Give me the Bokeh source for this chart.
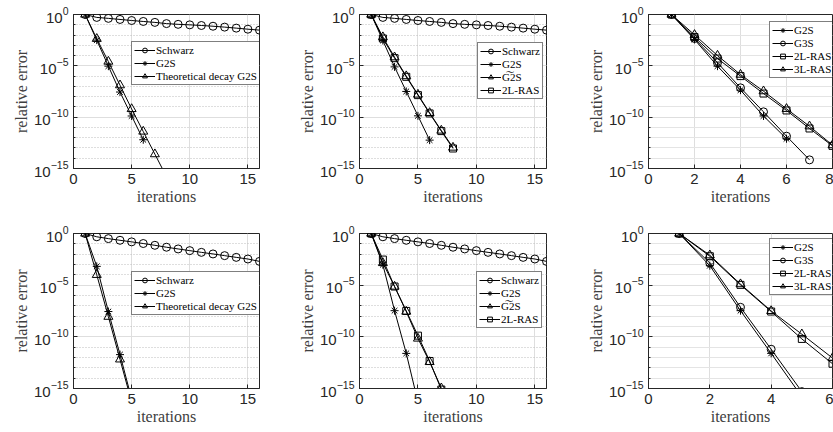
from bokeh.plotting import figure
from bokeh.layouts import column, row
from bokeh.models import FixedTicker, Range1d, Legend, LegendItem
from bokeh.embed import file_html
from bokeh.resources import INLINE

# ---------------- data ----------------
it16 = list(range(1, 17))
schwarz_top = [1, 0.52, 0.42, 0.33, 0.26, 0.21, 0.17, 0.13, 0.11, 0.098, 0.085, 0.072, 0.059, 0.047, 0.037, 0.030]
schwarz_bot = [1, 0.48, 0.32, 0.22, 0.155, 0.107, 0.072, 0.047, 0.032, 0.022, 0.015, 0.0105, 0.0072, 0.0049, 0.0034, 0.0020]

# panel 1 (top-left)
p1_g2s = [1, 3.2e-3, 9.3e-6, 2.8e-8, 1.3e-10, 6.3e-13]
p1_theory = [1, 4.3e-3, 2.6e-5, 1.3e-7, 6.3e-10, 4.0e-12, 2.5e-14, 1.6e-16]
# panel 2 (top-middle)
p2_g2s = [1, 2.9e-3, 7.9e-6, 3.2e-8, 1.35e-10, 5.8e-13]
p2_g2st = [1, 6.3e-3, 6.9e-5, 1.0e-6, 1.6e-8, 2.6e-10, 5.0e-12, 1.1e-13]
p2_2lras = [1, 4.6e-3, 5.6e-5, 8.5e-7, 1.4e-8, 2.3e-10, 4.4e-12, 8.9e-14]
# panel 3 (top-right)
p3_g2s = [1, 3.7e-3, 9.3e-6, 4.3e-8, 1.3e-10, 7.9e-13]
p3_g3s = [1, 4.6e-3, 2.0e-5, 7.2e-8, 3.3e-10, 1.4e-12, 6.9e-15]
p3_2lras = [1, 6.3e-3, 5.1e-5, 1.0e-6, 2.0e-8, 4.5e-10, 7.9e-12, 1.6e-13]
p3_3lras = [1, 1.05e-2, 1.0e-4, 1.4e-6, 3.4e-8, 6.5e-10, 1.3e-11, 1.9e-13]
# panel 4 (bottom-left)
p4_g2s = [1, 6.6e-4, 2.8e-8, 1.9e-12, 1.0e-16]
p4_theory = [1, 1.0e-4, 8.9e-9, 6.6e-13, 5.0e-17]
# panel 5 (bottom-middle)
p5_g2s = [1, 9.5e-4, 3.4e-8, 2.5e-12, 5.0e-17]
p5_g2st = [1, 1.4e-3, 7.4e-6, 2.8e-8, 6.9e-11, 3.7e-13, 1.07e-15]
p5_2lras = [1, 3.0e-3, 7.4e-6, 3.2e-8, 1.3e-10, 4.6e-13, 7.9e-16]
# panel 6 (bottom-right)
p6_g2s = [1, 7.6e-4, 3.4e-8, 2.5e-12, 1.6e-16]
p6_g3s = [1, 1.4e-3, 7.2e-8, 6.3e-12, 5.0e-16]
p6_2lras = [1, 6.3e-3, 1.07e-5, 2.8e-8, 6.3e-11, 2.5e-13]
p6_3lras = [1, 7.9e-3, 1.26e-5, 3.2e-8, 1.8e-10, 8.9e-13]

yticks = [1e-15, 1e-10, 1e-5, 1]
yminor = [10.0 ** -k for k in range(16)]
xticks_wide = [0, 5, 10, 15]

G2S_TILDE = "G\u03602S"
LBL_SERIF = "Liberation Serif"
TICK_FONT = "Liberation Sans"
AX = "#262626"

MARK = {"Schwarz": ("circle", 8), "G2S": ("asterisk", 8), "Theoretical decay G2S": ("triangle", 9),
        G2S_TILDE: ("triangle", 9), "2L-RAS": ("square", 7), "G3S": ("circle", 8), "3L-RAS": ("triangle", 9)}


def make_fig(width, height, lb, rb, tb, bb, xmax, xticks, dotted):
    p = figure(width=width, height=height, y_axis_type="log",
               x_range=Range1d(0, xmax), y_range=Range1d(1e-15, 1),
               output_backend="svg", toolbar_location=None,
               min_border_left=lb, min_border_right=rb, min_border_top=tb, min_border_bottom=bb)
    p.background_fill_color = "white"
    p.border_fill_color = "white"
    p.outline_line_color = AX
    p.outline_line_width = 1
    p.outline_line_alpha = 1
    p.yaxis.ticker = FixedTicker(ticks=yticks, minor_ticks=yminor)
    p.xaxis.ticker = FixedTicker(ticks=xticks)
    for ax in (p.xaxis, p.yaxis):
        ax.axis_line_color = AX
        ax.major_tick_line_color = AX
        ax.major_tick_in = 4
        ax.major_tick_out = 0
        ax.minor_tick_line_color = None
        ax.major_label_text_font = TICK_FONT
        ax.major_label_text_font_size = "15px"
        ax.major_label_text_color = AX
        ax.axis_label_text_font = LBL_SERIF
        ax.axis_label_text_font_size = "16px"
        ax.axis_label_text_font_style = "normal"
        ax.axis_label_text_color = "#404040"
        ax.axis_label_standoff = 1
        ax.major_label_standoff = 5
    p.yaxis.minor_tick_line_color = AX
    p.yaxis.minor_tick_in = 2
    p.yaxis.minor_tick_out = 0
    p.xaxis.axis_label = "iterations"
    p.yaxis.axis_label = "relative error"
    p.xgrid.grid_line_color = "#dedede"
    p.ygrid.grid_line_color = "#dedede"
    if dotted:
        p.ygrid.minor_grid_line_color = "#bdbdbd"
        p.ygrid.minor_grid_line_dash = "1 2"
    else:
        p.ygrid.minor_grid_line_color = "#e4e4e4"
    return p


def add_series(p, x, y, name):
    marker, size = MARK[name]
    r1 = p.line(x, y, line_color="black", line_width=1)
    r2 = p.scatter(x, y, marker=marker, size=size, line_color="black", fill_color=None, line_width=1)
    return LegendItem(label=name, renderers=[r1, r2])


def add_legend(p, items, loc):
    lg = Legend(items=items, location=loc)
    lg.label_text_font = LBL_SERIF
    lg.label_text_font_size = "11px"
    lg.label_text_color = "black"
    lg.label_height = 12
    lg.label_standoff = 1
    lg.glyph_width = 21
    lg.glyph_height = 12
    lg.spacing = 1
    lg.padding = 2
    lg.margin = 0
    lg.border_line_color = "black"
    lg.border_line_width = 1
    lg.background_fill_color = "white"
    lg.background_fill_alpha = 1
    p.add_layout(lg)


def xs(vals):
    return list(range(1, len(vals) + 1))


# top row
f1 = make_fig(290, 222, 73, 31, 14, 54, 16, xticks_wide, True)
it = [add_series(f1, it16, schwarz_top, "Schwarz"),
      add_series(f1, xs(p1_g2s), p1_g2s, "G2S"),
      add_series(f1, xs(p1_theory), p1_theory, "Theoretical decay G2S")]
add_legend(f1, it, (58, 83))

f2 = make_fig(283, 222, 69, 27, 14, 54, 16, xticks_wide, True)
it = [add_series(f2, it16, schwarz_top, "Schwarz"),
      add_series(f2, xs(p2_g2s), p2_g2s, "G2S"),
      add_series(f2, xs(p2_g2st), p2_g2st, G2S_TILDE),
      add_series(f2, xs(p2_2lras), p2_2lras, "2L-RAS")]
add_legend(f2, it, (118, 69))

f3 = make_fig(260, 222, 75, 1, 14, 54, 8, [0, 2, 4, 6, 8], False)
it = [add_series(f3, xs(p3_g2s), p3_g2s, "G2S"),
      add_series(f3, xs(p3_g3s), p3_g3s, "G3S"),
      add_series(f3, xs(p3_2lras), p3_2lras, "2L-RAS"),
      add_series(f3, xs(p3_3lras), p3_3lras, "3L-RAS")]
add_legend(f3, it, (121, 90))

# bottom row
f4 = make_fig(290, 210, 73, 31, 11, 44, 16, xticks_wide, True)
it = [add_series(f4, it16, schwarz_bot, "Schwarz"),
      add_series(f4, xs(p4_g2s), p4_g2s, "G2S"),
      add_series(f4, xs(p4_theory), p4_theory, "Theoretical decay G2S")]
add_legend(f4, it, (58, 73))

f5 = make_fig(283, 210, 69, 27, 11, 44, 16, xticks_wide, True)
it = [add_series(f5, it16, schwarz_bot, "Schwarz"),
      add_series(f5, xs(p5_g2s), p5_g2s, "G2S"),
      add_series(f5, xs(p5_g2st), p5_g2st, G2S_TILDE),
      add_series(f5, xs(p5_2lras), p5_2lras, "2L-RAS")]
add_legend(f5, it, (117, 60))

f6 = make_fig(260, 210, 75, 1, 11, 44, 6, [0, 2, 4, 6], False)
it = [add_series(f6, xs(p6_g2s), p6_g2s, "G2S"),
      add_series(f6, xs(p6_g3s), p6_g3s, "G3S"),
      add_series(f6, xs(p6_2lras), p6_2lras, "2L-RAS"),
      add_series(f6, xs(p6_3lras), p6_3lras, "3L-RAS")]
add_legend(f6, it, (121, 93))

layout = column(row(f1, f2, f3), row(f4, f5, f6))
open("out.html", "w").write(file_html(layout, INLINE))
